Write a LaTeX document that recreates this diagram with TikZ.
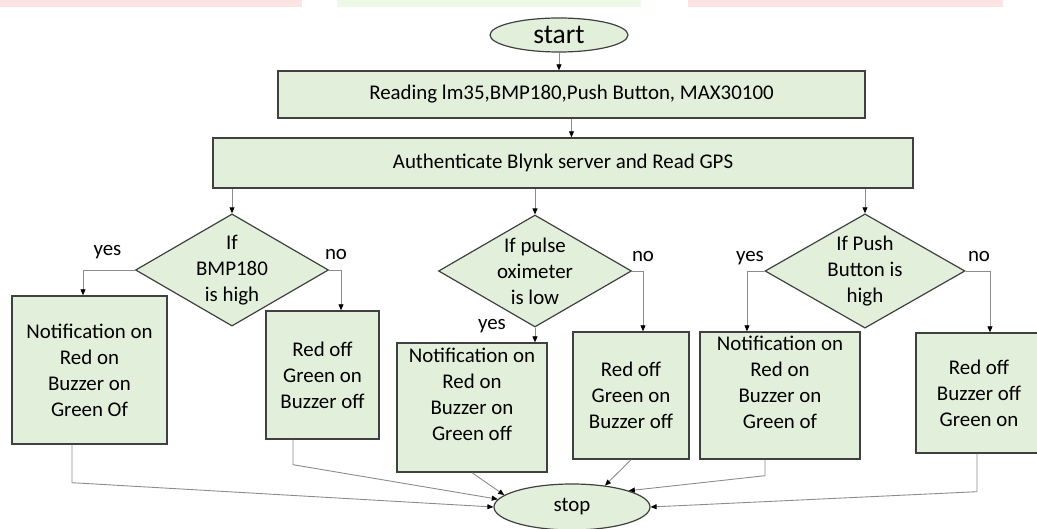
\documentclass[tikz,border=0pt]{standalone}
\usepackage{fontspec}
\setmainfont{Carlito}
\usepackage{tikz}
\usetikzlibrary{arrows.meta, shapes.geometric}
\definecolor{boxgreen}{HTML}{E2EFDA}
\definecolor{boxline}{HTML}{404040}
\definecolor{connline}{HTML}{8C8C8C}
\definecolor{markpink}{HTML}{FDE4E4}
\definecolor{markgreen}{HTML}{EEF8E6}

\begin{document}
\begin{tikzpicture}[x=1pt, y=-1pt,
  font=\fontsize{20.9}{26}\selectfont,
  procbox/.style={draw=boxline, fill=boxgreen, line width=1.4pt, align=center, inner sep=0pt},
  decide/.style={diamond, draw=boxline, fill=boxgreen, line width=1.2pt, align=center,
    inner sep=0pt, shape aspect=1.7, minimum width=193pt, minimum height=112pt},
  terminal/.style={ellipse, draw=boxline, fill=boxgreen, line width=1.2pt, inner sep=0pt},
  conn/.style={draw=connline, line width=0.9pt, -{Triangle[length=6pt, width=5pt, color=black]}},
  lbl/.style={anchor=base, inner sep=0pt}]
\useasboundingbox (0,0) rectangle (1037,529);
% faded strip along the top edge
\fill[markpink] (0,0) rectangle (302,7);
\fill[markgreen] (337,0) rectangle (641,7);
\fill[markpink] (688,0) rectangle (1003,7);

\node[terminal, minimum width=138pt, minimum height=34pt, font=\fontsize{27.5}{30}\selectfont]
  (start) at (559,35) {start};
\node[procbox, minimum width=587pt, minimum height=47pt] (read) at (571.5,94.5)
  {Reading lm35,BMP180,Push Button, MAX30100};
\node[procbox, minimum width=700pt, minimum height=50pt] (auth) at (563,163)
  {Authenticate Blynk server and Read GPS};

% decisions
\node[decide] (bmp) at (232,270) {If\\BMP180\\is high};
\node[decide] (pulse) at (535,271) {If pulse\\oximeter\\is low};
\node[decide, minimum width=200pt] (push) at (865,271) {If Push\\Button is\\high};

% outcomes
\node[procbox, minimum width=155pt, minimum height=148pt] (bmpyes) at (89.5,370)
  {Notification on\\Red on\\Buzzer on\\Green Of};
\node[procbox, minimum width=113pt, minimum height=128pt] (bmpno) at (322.5,375)
  {Red off\\Green on\\Buzzer off};
\node[procbox, minimum width=150pt, minimum height=129pt] (pulseyes) at (472,407.5)
  {Notification on\\Red on\\Buzzer on\\Green off\\~};
\node[procbox, minimum width=116pt, minimum height=127pt] (pulseno) at (631,395.5)
  {Red off\\Green on\\Buzzer off};
\node[procbox, minimum width=160pt, minimum height=127pt] (pushyes) at (780,395.5)
  {Notification on\\Red on\\Buzzer on\\Green of\\~};
\node[procbox, minimum width=126pt, minimum height=120pt] (pushno) at (979,393)
  {Red off\\Buzzer off\\Green on};

\node[terminal, minimum width=156pt, minimum height=46pt] (stop) at (572,507) {stop};

% branch labels
\node[lbl] (bmpy) at (107.5,256) {yes};
\node[lbl] (bmpn) at (336,260) {no};
\node[lbl] (pulsey) at (492,330) {yes};
\node[lbl] (pulsen) at (643,262) {no};
\node[lbl] (pushy) at (750,262) {yes};
\node[lbl] (pushn) at (979,262) {no};

\draw[conn] (start.south) -- (start.south |- read.north);
\draw[conn] (read.south) -- (read.south |- auth.north);
\draw[conn] (bmp.north |- auth.south) -- (bmp.north);
\draw[conn] (pulse.north |- auth.south) -- (pulse.north);
\draw[conn] (push.north |- auth.south) -- (push.north);

\draw[conn] (bmp.west) -| ([xshift=-6.5pt]bmpyes.north);
\draw[conn] (bmp.east) -| ([xshift=18.5pt]bmpno.north);
\draw[conn] (pulse.south) -- (pulse.south |- pulseyes.north);
\draw[conn] (pulse.east) -| ([xshift=12pt]pulseno.north);
\draw[conn] (push.west) -| ([xshift=-33pt]pushyes.north);
\draw[conn] (push.east) -| ([xshift=11pt]pushno.north);

% all outcomes end at stop
\draw[conn] ([xshift=-17.5pt]bmpyes.south) -- ++(0,38) -- (stop.west);
\draw[conn] ([xshift=-29.5pt]bmpno.south) -- ++(0,25) -- (stop.174);
\draw[conn] (pulseyes.south) -- (stop.170);
\draw[conn] (pulseno.south) -- (stop.33);
\draw[conn] ([xshift=-15pt]pushyes.south) -- ++(0,16) -- (stop.16);
\draw[conn] ([xshift=-2pt]pushno.south) -- ++(0,38) -- (stop.east);
\end{tikzpicture}
\end{document}
